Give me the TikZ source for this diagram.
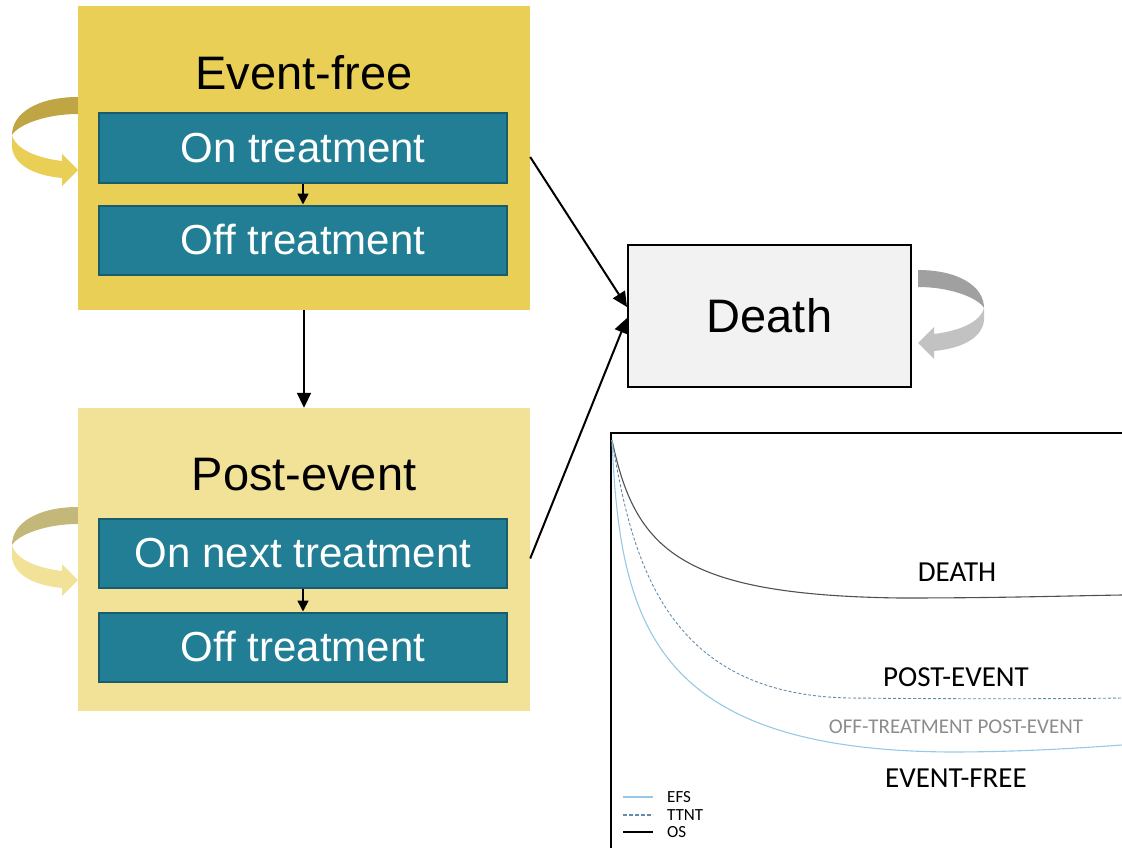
\documentclass[tikz,border=0pt]{standalone}
\usepackage{fontspec}
\setmainfont{Liberation Sans}
\newfontfamily\chartfont{Carlito}
\usetikzlibrary{arrows.meta}
\definecolor{efy}{RGB}{233,207,86}
\definecolor{efdark}{RGB}{192,165,69}
\definecolor{pey}{RGB}{241,226,152}
\definecolor{pedark}{RGB}{196,183,122}
\definecolor{teal}{RGB}{33,126,148}
\definecolor{tealb}{RGB}{25,92,110}
\definecolor{dbox}{RGB}{242,242,242}
\definecolor{gdark}{RGB}{160,160,160}
\definecolor{glight}{RGB}{194,194,194}
\definecolor{osc}{RGB}{80,80,80}
\definecolor{ttntc}{RGB}{100,140,170}
\definecolor{efsc}{RGB}{150,200,232}
\definecolor{offc}{RGB}{140,140,140}
\begin{document}
\begin{tikzpicture}[x=1pt,y=-1pt,
  bigbox/.style={rectangle,inner sep=0pt,minimum width=452pt,minimum height=304pt},
  tealbox/.style={rectangle,draw=tealb,line width=2pt,fill=teal,inner sep=0pt,minimum width=408pt,minimum height=69pt,text=white,font=\fontsize{42}{46}\selectfont},
  title/.style={font=\fontsize{47}{52}\selectfont},
  conn/.style={line width=2pt,-{Triangle[length=15pt,width=14pt]}},
  sconn/.style={line width=1.6pt,-{Triangle[length=11pt,width=11pt]}},
  chartlbl/.style={font=\chartfont\fontsize{29}{32}\selectfont},
  legtxt/.style={anchor=west,inner sep=0pt,font=\chartfont\fontsize{17}{18}\selectfont},
]
\useasboundingbox (0,0) rectangle (1122,848);
% ribbon arrows
\begin{scope}
  \fill[efdark] (78,97) .. controls (38,97) and (12,113) .. (12,135) .. controls (18,125) and (45,114) .. (78,114) -- cycle;
  \fill[efy] (12,135) -- (12,148) .. controls (15,168) and (40,176) .. (62,178) -- (62,186) -- (78,170) -- (62,154) -- (62,161) .. controls (38,158) and (16,150) .. (12,135) -- cycle;
\end{scope}
\begin{scope}[shift={(0,410)}]
  \fill[pedark] (78,97) .. controls (38,97) and (12,113) .. (12,135) .. controls (18,125) and (45,114) .. (78,114) -- cycle;
  \fill[pey] (12,135) -- (12,148) .. controls (15,168) and (40,176) .. (62,178) -- (62,186) -- (78,170) -- (62,154) -- (62,161) .. controls (38,158) and (16,150) .. (12,135) -- cycle;
\end{scope}
\begin{scope}[shift={(996,173)},xscale=-1]
  \fill[gdark] (78,97) .. controls (38,97) and (12,113) .. (12,135) .. controls (18,125) and (45,114) .. (78,114) -- cycle;
  \fill[glight] (12,135) -- (12,148) .. controls (15,168) and (40,176) .. (62,178) -- (62,186) -- (78,170) -- (62,154) -- (62,161) .. controls (38,158) and (16,150) .. (12,135) -- cycle;
\end{scope}
% boxes
\node[bigbox,fill=efy] (ef) at (304,158) {};
\node[title] (eft) at (304,73) {Event-free};
\node[tealbox] (ont) at (303,148) {On treatment};
\node[tealbox] (offt) at (303,240) {Off treatment};
\node[bigbox,fill=pey,minimum height=303pt] (pe) at (304,559.5) {};
\node[title] (pet) at (304,475) {Post-event};
\node[tealbox] (onnt) at (303,553) {On next treatment};
\node[tealbox] (offt2) at (303,647) {Off treatment};
\node[rectangle,draw=black,line width=2pt,fill=dbox,minimum width=283pt,minimum height=142pt,inner sep=0pt,font=\fontsize{47}{52}\selectfont] (death) at (769.5,316) {Death};
% connectors
\draw[sconn] (ont.south) -- (offt.north);
\draw[sconn] (onnt.south) -- (offt2.north);
\draw[conn] (ef.south) -- (pe.north);
\draw[conn] ([yshift=1pt]ef.east) -- ([yshift=9pt]death.west);
\draw[conn] ([yshift=1pt]pe.east) -- ([yshift=-2pt]death.west);
% chart
\draw[line width=2pt] (611,848) -- (611,433) -- (1122,433);
\draw[osc,line width=1.1pt] (612,440) .. controls (635,550) and (680,595) .. (900,598) .. controls (1000,598) and (1060,596) .. (1122,595);
\draw[ttntc,line width=0.9pt,dash pattern=on 3pt off 2pt] (612,440) .. controls (632,560) and (665,695) .. (850,698) .. controls (950,699) and (1050,699) .. (1122,698);
\draw[efsc,line width=1.1pt] (612,440) .. controls (620,620) and (650,750) .. (950,752) .. controls (1020,752) and (1080,748) .. (1122,745);
\node[chartlbl] (lD) at (957,572) {DEATH};
\node[chartlbl] (lPE) at (956,677) {POST-EVENT};
\node[chartlbl,text=offc,font=\chartfont\fontsize{21}{23}\selectfont] (lOff) at (956,727) {OFF-TREATMENT POST-EVENT};
\node[chartlbl] (lEF) at (956,778) {EVENT-FREE};
% legend
\coordinate (e1) at (623,797); \coordinate (e2) at (653,797);
\coordinate (t1) at (623,815); \coordinate (t2) at (653,815);
\coordinate (o1) at (623,832); \coordinate (o2) at (653,832);
\draw[efsc,line width=1.2pt] (e1) -- (e2);
\draw[ttntc,line width=1.2pt,dash pattern=on 4pt off 2pt] (t1) -- (t2);
\draw[black,line width=1.6pt] (o1) -- (o2);
\node[legtxt] (le) at (667,797) {EFS};
\node[legtxt] (lt) at (667,815) {TTNT};
\node[legtxt] (lo) at (667,832) {OS};
\end{tikzpicture}
\end{document}
